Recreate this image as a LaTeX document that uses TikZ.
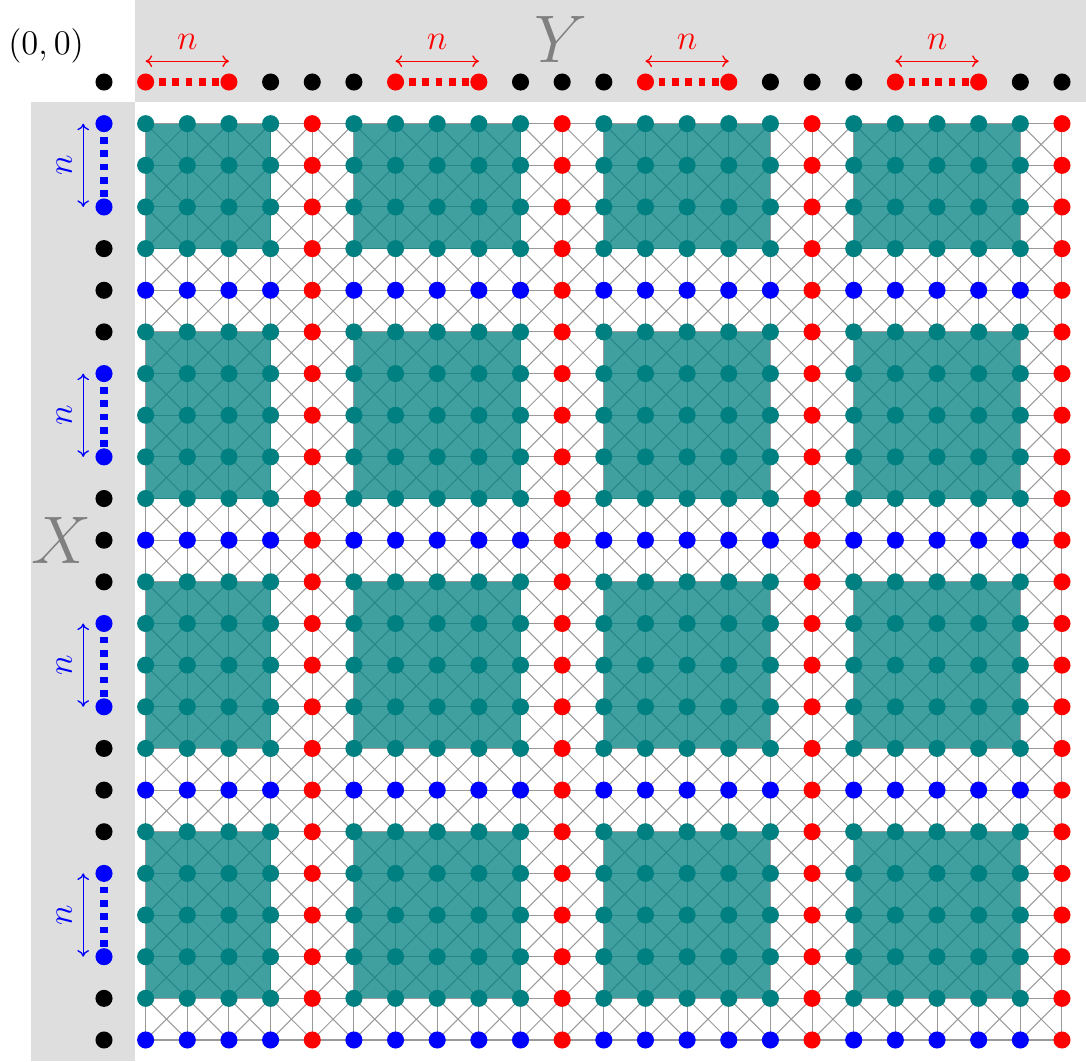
\documentclass[tikz,border=0pt]{standalone}
\usetikzlibrary{arrows.meta}
\DeclareFontShape{OML}{cmm}{m}{it}{<-> cmmi12}{}
\DeclareFontShape{OT1}{cmr}{m}{n}{<-> cmr12}{}
\pgfdeclarelayer{back}
\pgfdeclarelayer{mid}
\pgfsetlayers{back,mid,main}
\definecolor{bandgray}{gray}{0.87}
\definecolor{labelgray}{gray}{0.5}
\begin{document}
\begin{tikzpicture}[x=1cm,y=1cm,
  dot/.style={circle,inner sep=0pt,minimum size=0.41cm,draw=none},
  gridline/.style={draw=black!40,line width=0.7pt},
  block/.style={fill=teal,fill opacity=0.75},
  dashline/.style={line width=0.19cm,dash pattern=on 0.16cm off 0.16cm},
  span/.style={{Computer Modern Rightarrow[length=4.5pt,width=8pt]}-{Computer Modern Rightarrow[length=4.5pt,width=8pt]},line width=0.9pt},
  nlabel/.style={inner sep=0pt,font=\fontsize{24}{28}\selectfont},
  axislabel/.style={inner sep=0pt,text=labelgray,font=\fontsize{46}{50}\selectfont}]
\useasboundingbox (-2.497,-23.506) rectangle (23.577,1.969);

\begin{pgfonlayer}{back}
  % gray bands
  \fill[bandgray] (0.75,-0.48) rectangle (23.577,1.969);
  \fill[bandgray] (-1.75,-23.506) rectangle (0.75,-0.48);
  % grid
  \foreach \k in {1,...,23} {
    \draw[gridline] (1,-\k) -- (23,-\k);
    \draw[gridline] (\k,-1) -- (\k,-23);
  }
  \foreach \i in {1,...,22} {
    \foreach \j in {1,...,22} {
      \draw[gridline] (\i,-\j) -- (\i+1,-\j-1);
      \draw[gridline] (\i+1,-\j) -- (\i,-\j-1);
    }
  }
  % teal blocks
  \foreach \a/\b in {1/4,6/10,12/16,18/22} {
    \foreach \c/\d in {1/4,6/10,12/16,18/22} {
      \fill[block] (\a,-\c) rectangle (\b,-\d);
    }
  }
\end{pgfonlayer}

% main grid dots
\foreach \i in {1,...,23} {
  \foreach \j in {1,...,23} {
    \pgfmathtruncatemacro{\mi}{mod(\i,6)}
    \pgfmathtruncatemacro{\mj}{mod(\j,6)}
    \ifnum\mi=5 \def\c{red}\else\ifnum\mj=5 \def\c{blue}\else\def\c{teal}\fi\fi
    \node[dot,fill=\c] (d-\i-\j) at (\i,-\j) {};
  }
}

% top border dots
\foreach \i in {0,...,23} {
  \pgfmathtruncatemacro{\m}{mod(\i,6)}
  \ifnum\m=2 \else
    \ifnum\m=1 \def\c{red}\else\ifnum\m=3 \def\c{red}\else\def\c{black}\fi\fi
    \node[dot,fill=\c] (t-\i) at (\i,0) {};
  \fi
}
% left border dots
\foreach \j in {1,...,23} {
  \pgfmathtruncatemacro{\m}{mod(\j,6)}
  \ifnum\m=2 \else
    \ifnum\m=1 \def\c{blue}\else\ifnum\m=3 \def\c{blue}\else\def\c{black}\fi\fi
    \node[dot,fill=\c] (l-\j) at (0,-\j) {};
  \fi
}

% dashed spans
\begin{pgfonlayer}{mid}
  \foreach \a/\b in {1/3,7/9,13/15,19/21} {
    \draw[red,dashline] (t-\a.center) -- (t-\b.center);
    \draw[blue,dashline] (l-\a.center) -- (l-\b.center);
  }
\end{pgfonlayer}

% arrows with n labels
\foreach \a/\b in {1/3,7/9,13/15,19/21} {
  \coordinate (ra-\a) at (\a,0.5);
  \coordinate (rb-\a) at (\b,0.5);
  \draw[red,span] (ra-\a) -- (rb-\a);
  \node[nlabel,text=red] (rn-\a) at ({(\a+\b)/2},0.97) {$n$};
  \coordinate (la-\a) at (-0.5,-\a);
  \coordinate (lb-\a) at (-0.5,-\b);
  \draw[blue,span] (la-\a) -- (lb-\a);
  \node[nlabel,text=blue,rotate=90] (ln-\a) at (-0.95,{-(\a+\b)/2}) {$n$};
}

% labels
\node[inner sep=0pt,font=\fontsize{23.6}{28}\selectfont] (origin) at (-1.39,0.87) {$(0,0)$};
\node[axislabel] (ylab) at (10.97,1.03) {$Y$};
\node[axislabel] (xlab) at (-1.03,-11.0) {$X$};
\end{tikzpicture}
\end{document}
